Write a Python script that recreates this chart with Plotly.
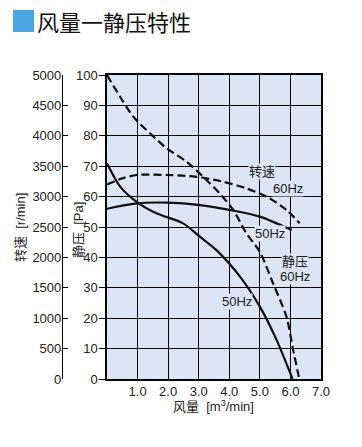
import plotly.graph_objects as go

# ---- data ----
flow_sp60 = [0, 0.86, 1.41, 1.95, 2.6, 3.15, 3.69, 4.13, 4.56, 5.0, 5.43, 5.87, 6.09, 6.29]
sp60 = [100, 86.3, 80.8, 75.9, 71.5, 66.5, 61.0, 55.6, 47.9, 41.8, 31.5, 20.5, 9.5, 0]

flow_sp50 = [0, 0.43, 0.97, 1.62, 2.49, 3.04, 3.58, 4.35, 5.0, 5.55, 6.07]
sp50 = [71, 63.3, 58.3, 54.5, 51.2, 46.8, 42.4, 33.7, 23.8, 12.8, 0]

flow_rpm60 = [0, 0.5, 0.97, 2.0, 2.93, 3.8, 4.56, 5.22, 5.87, 6.3]
rpm60 = [3200, 3300, 3355, 3355, 3325, 3245, 3135, 3000, 2780, 2560]

flow_rpm50 = [0, 0.97, 2.0, 3.04, 4.13, 5.0, 6.04]
rpm50 = [2800, 2890, 2900, 2860, 2770, 2670, 2450]

x_ticks = [1, 2, 3, 4, 5, 6, 7]
x_ticktext = ["1.0", "2.0", "3.0", "4.0", "5.0", "6.0", "7.0"]

title = "风量一静压特性"

# ---- layout constants ----
W, H = 362, 447
ML, MR, MT, MB = 50, 41, 75, 68
PW = W - ML - MR
PH = H - MT - MB
def px2x(px):
    return (px - ML) / PW
def py2y(py):
    return (H - MB - py) / PH

BG = "#dbe5f5"
FONT = "Liberation Sans, Arial, Noto Sans CJK SC"
CJK = "Noto Sans CJK SC"

fig = go.Figure()
line_w = 2.2
fig.add_trace(go.Scatter(x=flow_sp60, y=sp60, mode="lines", line=dict(color="#111", width=line_w, dash="8px,4px", shape="spline", smoothing=0.8), yaxis="y"))
fig.add_trace(go.Scatter(x=flow_sp50, y=sp50, mode="lines", line=dict(color="#111", width=line_w, shape="spline", smoothing=0.8), yaxis="y"))
fig.add_trace(go.Scatter(x=flow_rpm60, y=rpm60, mode="lines", line=dict(color="#111", width=line_w, dash="8px,4px", shape="spline", smoothing=0.8), yaxis="y2"))
fig.add_trace(go.Scatter(x=flow_rpm50, y=rpm50, mode="lines", line=dict(color="#111", width=line_w, shape="spline", smoothing=0.8), yaxis="y2"))

tickfont = dict(family=FONT, size=13, color="#222")

fig.update_layout(
    width=W, height=H,
    margin=dict(l=ML, r=MR, t=MT, b=MB),
    paper_bgcolor="white", plot_bgcolor=BG,
    showlegend=False,
    xaxis=dict(domain=[px2x(107), 1], range=[0, 7], tickvals=x_ticks, ticktext=x_ticktext,
               showgrid=True, gridcolor="black", gridwidth=1, zeroline=False,
               showline=True, linecolor="black", linewidth=1.5, mirror=True,
               ticks="", tickfont=tickfont, fixedrange=True),
    yaxis=dict(range=[0, 100], dtick=10, showgrid=True, gridcolor="black", gridwidth=1,
               zeroline=False, showline=True, linecolor="black", linewidth=1.5, mirror=True,
               ticks="outside", ticklen=6, tickcolor="black", tickfont=tickfont,
               ticklabelstandoff=-1),
    yaxis2=dict(range=[0, 5000], dtick=500, overlaying="y", anchor="free",
                position=px2x(62), side="left", showgrid=False, zeroline=False,
                showline=True, linecolor="black", linewidth=1.2,
                ticks="inside", ticklen=5, tickcolor="black", tickfont=tickfont,
                ticklabelstandoff=-2),
)

# title square
fig.add_shape(type="rect", xref="paper", yref="paper",
              x0=px2x(13), x1=px2x(34), y0=py2y(32), y1=py2y(10),
              fillcolor="#4aa6e0", line=dict(width=0))

ann = []
ann.append(dict(text=title, x=px2x(35), y=py2y(21), xref="paper", yref="paper",
                xanchor="left", yanchor="middle", showarrow=False,
                font=dict(family=CJK, size=22, color="#111")))
# axis titles
ann.append(dict(text="转速  [r/min]", x=px2x(20), y=py2y(228), xref="paper", yref="paper",
                xanchor="center", yanchor="middle",
                textangle=-90, showarrow=False, font=dict(family=FONT, size=13, color="#222")))
ann.append(dict(text="静压  [Pa]", x=px2x(78), y=py2y(230), xref="paper", yref="paper",
                xanchor="center", yanchor="middle",
                textangle=-90, showarrow=False, font=dict(family=FONT, size=13, color="#222")))
ann.append(dict(text="风量  [m<sup>3</sup>/min]", x=px2x(213), y=py2y(406), xref="paper", yref="paper",
                xanchor="center", yanchor="middle",
                showarrow=False, font=dict(family=FONT, size=13, color="#222")))

# in-plot labels
lab = [("转速", 5.06, 68.2), ("60Hz", 5.93, 62.7), ("50Hz", 5.33, 47.9),
       ("静压", 6.15, 38.6), ("60Hz", 6.15, 33.6), ("50Hz", 4.24, 25.4)]
for t, x, y in lab:
    ann.append(dict(text=t, x=x, y=y, xref="x", yref="y", showarrow=False,
                    bgcolor=BG, borderpad=0,
                    font=dict(family=FONT, size=13, color="#222")))
fig.update_layout(annotations=ann)

fig.write_html("out.html", config={"displayModeBar": False},
               post_script="document.body.style.margin='0';document.body.style.padding='0';")
